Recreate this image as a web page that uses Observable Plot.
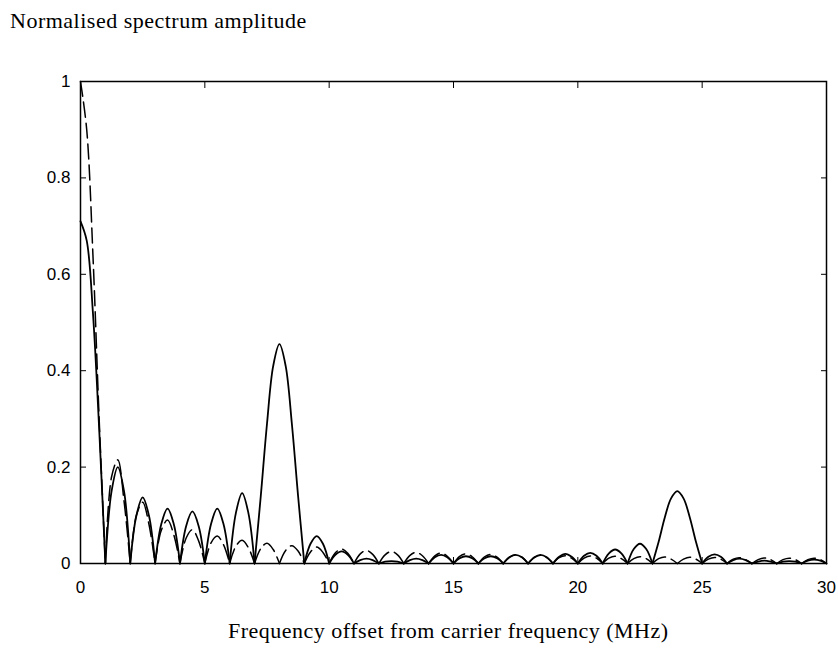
<!DOCTYPE html>
<html><head><meta charset="utf-8">
<script src="https://cdn.jsdelivr.net/npm/d3@7"></script>
<script src="https://cdn.jsdelivr.net/npm/@observablehq/plot@0.6"></script>
<style>
body{margin:0;background:#fff;}
#wrap{position:relative;width:838px;height:662px;background:#fff;}
#wrap svg{position:absolute;left:0;top:0;}
.t{position:absolute;font-family:"Liberation Serif","Times New Roman",serif;font-size:22px;line-height:22px;letter-spacing:0.5px;color:#000;white-space:nowrap;}
</style></head><body>
<div id="wrap">
<div class="t" id="title" style="left:10px;top:10px;">Normalised spectrum amplitude</div>
<div class="t" id="xtitle" style="left:228px;top:620px;">Frequency offset from carrier frequency (MHz)</div>
</div>
<script>
// Frequency grid (MHz), one sample every 0.25 MHz from 0 to 30
const freq = d3.range(121).map(i => i * 0.25);

// Solid curve: values at x = 0, then per 1 MHz interval the values at +0.25, +0.5, +0.75, +1
const solid = [0.71,
  0.67, 0.52, 0.28, 0,        // 0-1
  0.15, 0.20, 0.15, 0,        // 1-2
  0.10, 0.137, 0.10, 0,       // 2-3
  0.082, 0.114, 0.082, 0,     // 3-4
  0.078, 0.108, 0.078, 0,     // 4-5
  0.082, 0.114, 0.082, 0,     // 5-6
  0.105, 0.146, 0.105, 0,     // 6-7
  0.14, 0.29, 0.41, 0.455,    // 7-8
  0.41, 0.29, 0.14, 0,        // 8-9
  0.041, 0.057, 0.041, 0,     // 9-10
  0.018, 0.025, 0.018, 0,     // 10-11
  0.007, 0.010, 0.007, 0,     // 11-12
  0.004, 0.005, 0.004, 0,     // 12-13
  0.007, 0.010, 0.007, 0,     // 13-14
  0.013, 0.018, 0.013, 0,     // 14-15
  0.011, 0.015, 0.011, 0,     // 15-16
  0.011, 0.015, 0.011, 0,     // 16-17
  0.013, 0.018, 0.013, 0,     // 17-18
  0.013, 0.018, 0.013, 0,     // 18-19
  0.014, 0.020, 0.014, 0,     // 19-20
  0.016, 0.022, 0.016, 0,     // 20-21
  0.021, 0.029, 0.021, 0,     // 21-22
  0.030, 0.041, 0.030, 0,     // 22-23
  0.045, 0.096, 0.135, 0.150, // 23-24
  0.135, 0.096, 0.045, 0,     // 24-25
  0.014, 0.019, 0.014, 0,     // 25-26
  0.007, 0.010, 0.007, 0,     // 26-27
  0.004, 0.006, 0.004, 0,     // 27-28
  0.004, 0.005, 0.004, 0,     // 28-29
  0.006, 0.008, 0.006, 0      // 29-30
];

// Dashed curve, same sampling
const dashed = [1.0,
  0.90, 0.64, 0.30, 0,        // 0-1
  0.18, 0.215, 0.13, 0,       // 1-2
  0.10, 0.127, 0.082, 0,      // 2-3
  0.069, 0.090, 0.060, 0,     // 3-4
  0.053, 0.070, 0.047, 0,     // 4-5
  0.043, 0.057, 0.039, 0,     // 5-6
  0.036, 0.048, 0.033, 0,     // 6-7
  0.031, 0.042, 0.029, 0,     // 7-8
  0.027, 0.037, 0.026, 0,     // 8-9
  0.024, 0.034, 0.023, 0,     // 9-10
  0.022, 0.030, 0.021, 0,     // 10-11
  0.020, 0.027, 0.019, 0,     // 11-12
  0.018, 0.025, 0.018, 0,     // 12-13
  0.017, 0.023, 0.016, 0,     // 13-14
  0.016, 0.022, 0.015, 0,     // 14-15
  0.015, 0.020, 0.014, 0,     // 15-16
  0.014, 0.019, 0.013, 0,     // 16-17
  0.013, 0.018, 0.013, 0,     // 17-18
  0.012, 0.017, 0.012, 0,     // 18-19
  0.012, 0.016, 0.011, 0,     // 19-20
  0.011, 0.0155, 0.011, 0,    // 20-21
  0.011, 0.015, 0.010, 0,     // 21-22
  0.010, 0.014, 0.010, 0,     // 22-23
  0.010, 0.0135, 0.009, 0,    // 23-24
  0.009, 0.013, 0.009, 0,     // 24-25
  0.009, 0.0125, 0.009, 0,    // 25-26
  0.009, 0.012, 0.008, 0,     // 26-27
  0.008, 0.0115, 0.008, 0,    // 27-28
  0.008, 0.011, 0.008, 0,     // 28-29
  0.008, 0.011, 0.008, 0      // 29-30
];

const xTicks = [0, 5, 10, 15, 20, 25, 30];
const xTickLabels = ["0", "5", "10", "15", "20", "25", "30"];
const yTicks = [0, 0.2, 0.4, 0.6, 0.8, 1];
const yTickLabels = ["0", "0.2", "0.4", "0.6", "0.8", "1"];

// split each series into lobes at its zeros so each lobe is a separate smooth arc
function toRows(vals, name) {
  const rows = []; let seg = 0;
  vals.forEach((v, i) => {
    rows.push({x: freq[i], y: v, s: name + seg});
    if (v === 0 && i > 0 && i < vals.length - 1) {
      seg++;
      rows.push({x: freq[i], y: v, s: name + seg});
    }
  });
  return rows;
}
const solidRows = toRows(solid, "s");
const dashedRows = toRows(dashed, "d");

const chart = Plot.plot({
  width: 838, height: 662,
  marginLeft: 80, marginRight: 12, marginTop: 81, marginBottom: 99,
  x: {domain: [0, 30]},
  y: {domain: [0, 1]},
  style: {fontFamily: "Liberation Sans, Arial, sans-serif", fontSize: "17px", background: "white", color: "black"},
  marks: [
    Plot.line(dashedRows, {x: "x", y: "y", z: "s", curve: "catmull-rom", stroke: "black", strokeWidth: 1.5, strokeDasharray: "15,6"}),
    Plot.line(solidRows, {x: "x", y: "y", z: "s", curve: "catmull-rom", stroke: "black", strokeWidth: 1.8}),
    Plot.frame({stroke: "black", strokeWidth: 1.5}),
    Plot.axisY(yTicks, {anchor: "left", tickSize: 6, dx: 6, tickPadding: 10, label: null,
      tickFormat: d => yTickLabels[yTicks.indexOf(d)], stroke: "black", fill: "black"}),
    Plot.axisY(yTicks, {anchor: "right", tickSize: 6, dx: -6, label: null, tickFormat: () => "", stroke: "black"}),
    Plot.axisX(xTicks, {anchor: "bottom", tickSize: 6, dy: -6, tickPadding: 17, label: null,
      tickFormat: d => xTickLabels[xTicks.indexOf(d)], stroke: "black", fill: "black"}),
    Plot.axisX(xTicks, {anchor: "top", tickSize: 6, dy: 6, label: null, tickFormat: () => "", stroke: "black"})
  ]
});
document.getElementById("wrap").prepend(chart);
</script>
</body></html>
